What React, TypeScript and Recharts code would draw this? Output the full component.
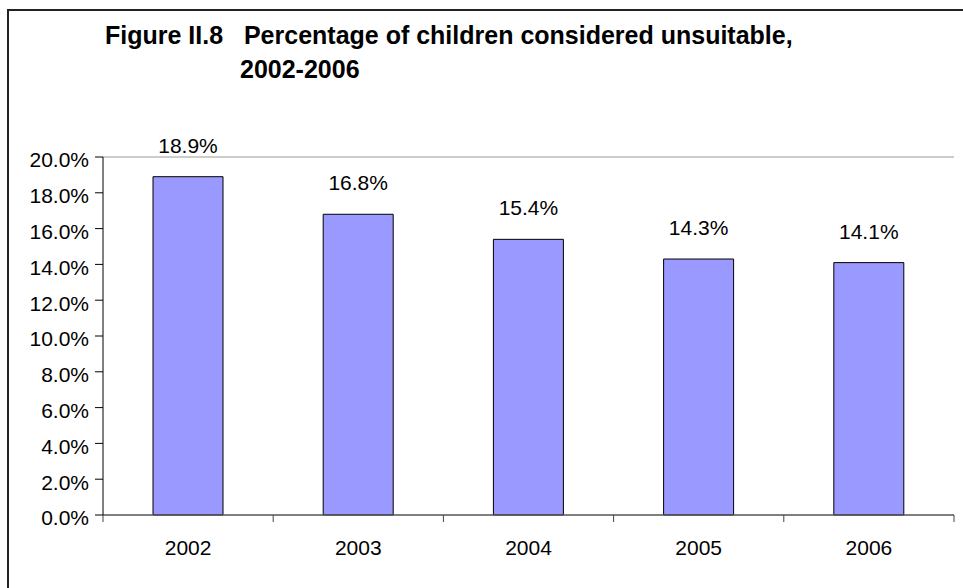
import { BarChart, Bar, XAxis, YAxis, LabelList, ReferenceLine } from 'recharts';

const years = ['2002', '2003', '2004', '2005', '2006'];
const unsuitable = [18.9, 16.8, 15.4, 14.3, 14.1];
const yTicks = [0, 2, 4, 6, 8, 10, 12, 14, 16, 18, 20];

const W = 963;
const H = 588;
const PLOT_LEFT = 103;
const PLOT_RIGHT = 954;
const STEP = (PLOT_RIGHT - PLOT_LEFT) / years.length;
const FONT = '"Liberation Sans", Arial, sans-serif';

// tick de categoria: rótulo no centro + traços nas divisas (estilo Excel)
function CategoryTick(props: any) {
  const { x, y, payload, index } = props;
  return (
    <g>
      <line x1={x - STEP / 2} x2={x - STEP / 2} y1={y} y2={y + 7} stroke="#444" />
      {index === years.length - 1 && (
        <line x1={x + STEP / 2} x2={x + STEP / 2} y1={y} y2={y + 7} stroke="#444" />
      )}
      <text x={x} y={y + 40} textAnchor="middle" fontSize={21} fill="#000" fontFamily={FONT}>
        {payload.value}
      </text>
    </g>
  );
}

export default function App() {
  const data = years.map((year, i) => ({ year, value: unsuitable[i] }));

  return (
    <div style={{ position: 'absolute', left: 0, top: 0, width: W, height: H, overflow: 'hidden', background: '#fff', fontFamily: FONT }}>
      <style>{'body{overflow:hidden}'}</style>
      <div style={{ position: 'absolute', left: 7, top: 9, width: 1000, height: 700, border: '2px solid #222' }} />
      <div style={{ position: 'absolute', left: 105, top: 21, fontSize: 25, fontWeight: 'bold', whiteSpace: 'pre', lineHeight: '29px' }}>
        {'Figure II.8   Percentage of children considered unsuitable,'}
      </div>
      <div style={{ position: 'absolute', left: 240, top: 55, fontSize: 25, fontWeight: 'bold', lineHeight: '29px' }}>
        2002-2006
      </div>
      <div style={{ position: 'absolute', left: 0, top: 0 }}>
        <BarChart width={W} height={H} data={data} margin={{ top: 157, right: W - PLOT_RIGHT, bottom: 33, left: 0 }}>
          <XAxis
            dataKey="year"
            height={40}
            tickSize={0}
            tickMargin={0}
            tickLine={false}
            axisLine={{ stroke: '#555', strokeWidth: 1.5 }}
            tick={<CategoryTick />}
            interval={0}
          />
          <YAxis
            width={PLOT_LEFT}
            domain={[0, 20]}
            ticks={yTicks}
            tickSize={8}
            tickMargin={6}
            interval={0}
            axisLine={{ stroke: '#000' }}
            tickLine={{ stroke: '#000' }}
            tick={{ fontSize: 21, fill: '#000', fontFamily: FONT, dy: 3 }}
            tickFormatter={(v: number) => `${v.toFixed(1)}%`}
          />
          <YAxis
            yAxisId="r"
            orientation="right"
            width={0}
            domain={[0, 20]}
            tick={false}
            tickLine={false}
            axisLine={{ stroke: '#999' }}
          />
          <ReferenceLine y={20} stroke="#999" />
          <Bar dataKey="value" fill="#9999FF" stroke="#000" strokeWidth={1} barSize={70} isAnimationActive={false}>
            <LabelList
              dataKey="value"
              position="top"
              offset={24}
              formatter={(v: any) => `${Number(v).toFixed(1)}%`}
              style={{ fontSize: 21, fill: '#000', fontFamily: FONT }}
            />
          </Bar>
        </BarChart>
      </div>
    </div>
  );
}
